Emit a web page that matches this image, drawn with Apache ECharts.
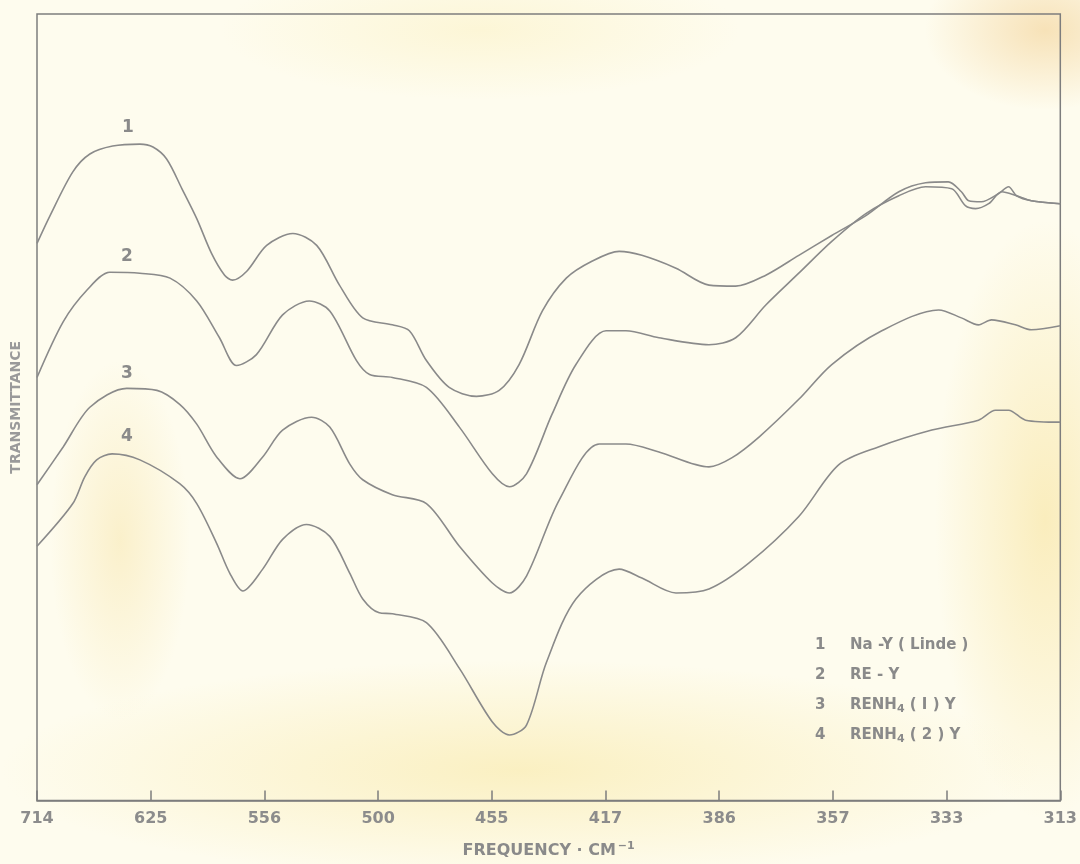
<!DOCTYPE html>
<html>
<head>
<meta charset="utf-8">
<script src="https://cdn.jsdelivr.net/npm/echarts@6/dist/echarts.min.js"></script>
<style>
  html, body { margin: 0; padding: 0; }
  #chart {
    width: 1080px; height: 864px;
    background-color: #fefcee;
    background-image:
      radial-gradient(ellipse 110px 300px at 1045px 520px, rgba(246,222,140,0.5), rgba(246,222,140,0) 100%),
      radial-gradient(ellipse 520px 110px at 520px 770px, rgba(247,228,150,0.5), rgba(247,228,150,0) 100%),
      radial-gradient(ellipse 120px 80px at 1045px 30px, rgba(240,200,130,0.5), rgba(240,200,130,0) 100%),
      radial-gradient(ellipse 70px 180px at 120px 540px, rgba(245,222,150,0.4), rgba(245,222,150,0) 100%),
      radial-gradient(ellipse 260px 70px at 480px 30px, rgba(248,232,160,0.3), rgba(248,232,160,0) 100%);
  }
</style>
</head>
<body>
<div id="chart"></div>
<script>
// x is wavelength in microns (chart is linear in it), labelled as frequency cm-1
var freqLabels = ['714', '625', '556', '500', '455', '417', '386', '357', '333', '313'];
var seriesNames = ['Na -Y ( Linde )', 'RE - Y', 'RENH4 ( I ) Y', 'RENH4 ( 2 ) Y'];

// transmittance, arbitrary units
var naY = [
  [14.00, 56.1], [14.23, 58.9], [14.63, 63.3], [14.93, 65.1], [15.33, 65.9], [15.81, 66.1],
  [16.04, 65.8], [16.28, 64.6], [16.55, 61.6], [16.81, 58.6], [17.07, 55.1], [17.30, 52.9],
  [17.44, 52.4], [17.69, 53.3], [18.04, 55.9], [18.50, 57.1], [18.92, 55.9], [19.32, 51.9],
  [19.73, 48.6], [20.25, 47.9], [20.55, 47.3], [20.85, 44.3], [21.25, 41.6], [21.73, 40.7],
  [22.13, 41.3], [22.48, 43.9], [22.89, 49.3], [23.31, 52.6], [23.76, 54.3], [24.24, 55.3],
  [24.64, 54.9], [25.24, 53.6], [25.82, 51.9], [26.29, 51.8], [26.82, 52.9], [27.40, 54.9],
  [27.98, 56.9], [28.58, 58.9], [29.16, 61.3], [29.63, 62.2], [30.03, 62.3], [30.26, 61.3],
  [30.39, 60.4], [30.61, 60.3], [30.91, 61.1], [31.09, 61.8], [31.23, 60.9], [31.49, 60.4],
  [32.00, 60.1]
];
var reY = [
  [14.00, 42.6], [14.46, 48.2], [14.88, 51.4], [15.28, 53.2], [15.81, 53.1], [16.34, 52.6],
  [16.81, 50.3], [17.21, 46.6], [17.51, 43.8], [17.86, 44.9], [18.32, 48.9], [18.79, 50.3],
  [19.15, 49.3], [19.62, 44.3], [19.85, 42.9], [20.25, 42.6], [20.85, 41.6], [21.43, 37.6],
  [22.01, 32.9], [22.31, 31.6], [22.61, 32.9], [23.06, 38.9], [23.48, 43.9], [24.01, 47.3],
  [24.36, 47.3], [24.94, 46.6], [25.82, 45.9], [26.29, 46.6], [26.82, 49.9], [27.40, 53.1],
  [27.98, 56.3], [28.58, 59.1], [29.16, 60.9], [29.63, 61.8], [30.09, 61.6], [30.33, 59.9],
  [30.51, 59.6], [30.74, 60.1], [30.97, 61.3], [31.23, 60.9], [31.49, 60.4], [32.00, 60.1]
];
var renh4One = [
  [14.00, 31.8], [14.46, 35.6], [14.93, 39.6], [15.58, 41.5], [16.11, 41.3], [16.51, 39.9],
  [16.81, 37.9], [17.16, 34.6], [17.57, 32.4], [17.97, 34.6], [18.32, 37.3], [18.83, 38.6],
  [19.15, 37.6], [19.50, 33.9], [19.73, 32.3], [20.25, 30.8], [20.85, 29.9], [21.43, 25.6],
  [22.01, 21.9], [22.31, 20.9], [22.61, 22.6], [23.19, 30.3], [23.89, 35.9], [24.36, 35.9],
  [24.94, 35.1], [25.82, 33.6], [26.22, 34.5], [26.70, 36.6], [27.40, 40.4], [27.98, 43.9],
  [28.86, 47.3], [29.86, 49.4], [30.26, 48.6], [30.56, 47.9], [30.79, 48.4], [31.21, 47.9],
  [31.49, 47.4], [32.00, 47.8]
];
var renh4Two = [
  [14.00, 25.6], [14.63, 29.9], [14.84, 32.6], [15.05, 34.3], [15.32, 34.9], [15.81, 34.3],
  [16.51, 31.9], [16.81, 29.9], [17.16, 25.9], [17.39, 22.9], [17.62, 21.1], [17.97, 23.3],
  [18.32, 26.3], [18.74, 27.8], [19.15, 26.6], [19.50, 22.9], [19.73, 20.3], [20.02, 18.9],
  [20.25, 18.8], [20.85, 17.9], [21.43, 13.3], [22.01, 7.9], [22.31, 6.6], [22.61, 7.6],
  [22.96, 13.9], [23.48, 20.3], [24.24, 23.3], [24.64, 22.4], [25.24, 20.9], [25.82, 21.3],
  [26.52, 23.9], [27.40, 28.6], [28.10, 33.8], [28.80, 35.6], [29.74, 37.3], [30.56, 38.3],
  [30.86, 39.3], [31.09, 39.3], [31.39, 38.3], [32.00, 38.1]
];
// where the curve numbers sit
var curveTags = [[15.60, 67.8], [15.58, 54.8], [15.58, 43.0], [15.58, 36.6]];

var ink = '#8a8a8a';
var myChart = echarts.init(document.getElementById('chart'));

function trace(idx, data) {
    return {
        name: seriesNames[idx],
        type: 'line',
        data: data,
        smooth: 0.3,
        showSymbol: false,
        lineStyle: { color: ink, width: 1.6 },
        markPoint: {
            symbol: 'circle',
            symbolSize: 0,
            label: {
                show: true,
                formatter: String(idx + 1),
                color: ink,
                fontSize: 17,
                fontWeight: 'bold',
                fontFamily: 'DejaVu Sans'
            },
            data: [{ coord: curveTags[idx] }]
        }
    };
}

var legendTop = 638, legendStep = 30;
var keyRich = {
    t: { fontSize: 15, fill: ink, fontWeight: 'bold', fontFamily: 'DejaVu Sans' },
    s: { fontSize: 11, fill: ink, fontWeight: 'bold', fontFamily: 'DejaVu Sans', verticalAlign: 'bottom', padding: [8, 0, 0, 0] }
};
function keyText(name) {
    var parts = name.split('4');
    if (parts.length === 1) return '{t|' + name + '}';
    return '{t|' + parts[0] + '}{s|4}{t|' + parts[1] + '}';
}
var keyItems = [];
seriesNames.forEach(function(n, i) {
    keyItems.push({
        type: 'text', left: 815, top: legendTop + i * legendStep,
        style: { text: String(i + 1), fill: ink, font: 'bold 15px "DejaVu Sans"' }
    });
    keyItems.push({
        type: 'text', left: 850, top: legendTop + i * legendStep,
        style: { text: keyText(n), fill: ink, rich: keyRich }
    });
});

var option = {
    animation: false,
    grid: {
        left: 37, right: 18, top: 14, bottom: 58,
        show: true, borderColor: '#7d7d7d', borderWidth: 1.5,
        backgroundColor: 'rgba(0,0,0,0)'
    },
    xAxis: {
        type: 'value',
        min: 14, max: 32, interval: 2,
        name: '{n|FREQUENCY · CM}{p|−1}',
        nameLocation: 'middle',
        nameGap: 40,
        nameTextStyle: {
            rich: {
                n: { fontSize: 16, color: ink, fontWeight: 'bold', fontFamily: 'DejaVu Sans' },
                p: { fontSize: 11, color: ink, fontWeight: 'bold', fontFamily: 'DejaVu Sans', verticalAlign: 'top', padding: [0, 0, 10, 2] }
            }
        },
        axisLine: { show: true, lineStyle: { color: '#7d7d7d', width: 1.5 } },
        axisTick: { show: true, inside: true, length: 10, lineStyle: { color: '#7d7d7d', width: 1.5 } },
        axisLabel: {
            margin: 10,
            color: '#8c8c8c',
            fontSize: 16,
            fontWeight: 'bold',
            fontFamily: 'DejaVu Sans',
            formatter: function(v) {
                return freqLabels[Math.round((v - 14) / 2)] || '';
            }
        },
        splitLine: { show: false }
    },
    yAxis: {
        type: 'value',
        min: 0, max: 79.2,
        name: 'TRANSMITTANCE',
        nameLocation: 'middle',
        nameGap: 14,
        nameTextStyle: { fontSize: 14, color: '#9a9a9a', fontWeight: 'bold', fontFamily: 'DejaVu Sans' },
        axisLine: { show: false },
        axisTick: { show: false },
        axisLabel: { show: false },
        splitLine: { show: false }
    },
    series: [
        trace(0, naY),
        trace(1, reY),
        trace(2, renh4One),
        trace(3, renh4Two)
    ],
    graphic: keyItems
};

myChart.setOption(option);
</script>
</body>
</html>
